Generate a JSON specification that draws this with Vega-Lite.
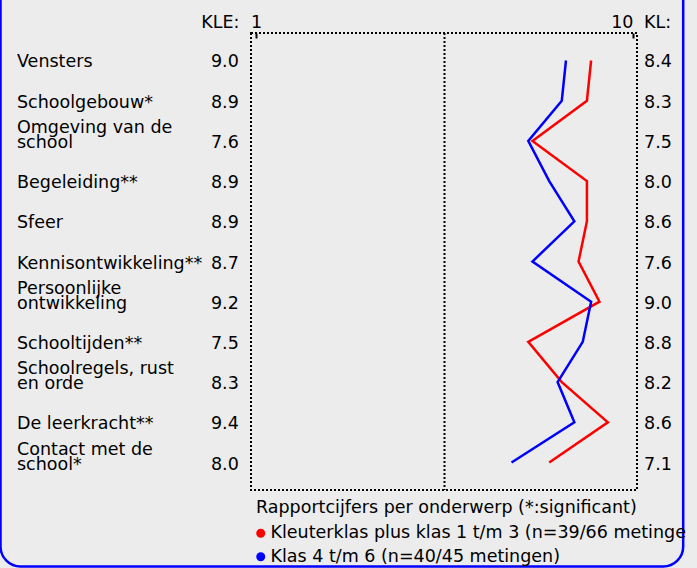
{
  "$schema": "https://vega.github.io/schema/vega-lite/v6.json",
  "width": 386,
  "height": 457,
  "autosize": {"type": "none"},
  "padding": {"left": 251, "top": 33, "right": 60, "bottom": 78},
  "background": "#ececec",
  "config": {
    "font": "DejaVu Sans",
    "view": {"stroke": "#000000", "strokeWidth": 2, "strokeDash": [2, 2]},
    "axis": {"grid": false, "labelFont": "DejaVu Sans", "titleFont": "DejaVu Sans", "labelFontSize": 17.5, "titleFontSize": 17.5, "labelColor": "#000000", "titleColor": "#000000", "titleFontWeight": "normal"}
  },
  "data": {"values": [
    {"onderwerp": "Vensters", "kle": 9.0, "kl": 8.4},
    {"onderwerp": "Schoolgebouw*", "kle": 8.9, "kl": 8.3},
    {"onderwerp": "Omgeving van de\nschool", "kle": 7.6, "kl": 7.5},
    {"onderwerp": "Begeleiding**", "kle": 8.9, "kl": 8.0},
    {"onderwerp": "Sfeer", "kle": 8.9, "kl": 8.6},
    {"onderwerp": "Kennisontwikkeling**", "kle": 8.7, "kl": 7.6},
    {"onderwerp": "Persoonlijke\nontwikkeling", "kle": 9.2, "kl": 9.0},
    {"onderwerp": "Schooltijden**", "kle": 7.5, "kl": 8.8},
    {"onderwerp": "Schoolregels, rust\nen orde", "kle": 8.3, "kl": 8.2},
    {"onderwerp": "De leerkracht**", "kle": 9.4, "kl": 8.6},
    {"onderwerp": "Contact met de\nschool*", "kle": 8.0, "kl": 7.1}
  ]},
  "layer": [
    {
      "data": {"values": [{}]},
      "mark": {"type": "rect", "fill": "transparent", "stroke": "#0000ff", "strokeWidth": 2.5, "cornerRadius": 20},
      "encoding": {
        "x": {"datum": -5.0993, "type": "quantitative", "scale": {"domain": [0.8806, 10.0955], "nice": false, "zero": false}},
        "x2": {"datum": 11.1983},
        "y": {"datum": 1.1597, "type": "quantitative", "scale": {"domain": [0, 1], "nice": false, "zero": false}, "axis": null},
        "y2": {"datum": -0.1674}
      }
    },
    {
      "layer": [
        {
          "data": {"values": [{}]},
          "mark": {"type": "rule", "color": "#000000", "strokeWidth": 2, "strokeDash": [2, 2]},
          "encoding": {"x": {"datum": 5.5, "type": "quantitative"}}
        },
        {
          "transform": [{"fold": ["kle", "kl"], "as": ["groep", "cijfer"]}],
          "mark": {"type": "line", "strokeWidth": 2.5},
          "encoding": {
            "x": {
              "field": "cijfer", "type": "quantitative",
              "scale": {"domain": [0.8806, 10.0955], "nice": false, "zero": false},
              "axis": {
                "orient": "top", "values": [1, 10], "domain": false, "ticks": true, "tickSize": -5, "tickWidth": 2, "tickColor": "#000000",
                "labelPadding": 10.5, "labelBaseline": "alphabetic", "labelFlush": false, "labelOverlap": false, "labelBound": false,
                "labelAlign": {"condition": {"test": "datum.value == 10", "value": "right"}, "value": "center"},
                "title": "KL:", "titleX": 392.5, "titleY": -5.5, "titleAlign": "left", "titleBaseline": "alphabetic", "titleAngle": 0
              }
            },
            "y": {
              "field": "onderwerp", "type": "nominal", "sort": null,
              "scale": {"type": "point", "padding": 0.684},
              "axis": {"orient": "left", "labels": false, "ticks": false, "domain": false, "title": "KLE:", "titleAngle": 0, "titleAlign": "right", "titleBaseline": "alphabetic", "titleX": -12, "titleY": -5.5}
            },
            "color": {
              "field": "groep", "type": "nominal",
              "scale": {"domain": ["kle", "kl"], "range": ["#ff0000", "#0000ff"]},
              "legend": {
                "orient": "none", "legendX": 5, "legendY": 466, "direction": "vertical", "padding": 0,
                "title": "Rapportcijfers per onderwerp (*:significant)",
                "titleFont": "DejaVu Sans", "titleFontSize": 17.5, "titleFontWeight": "normal", "titleColor": "#000000", "titlePadding": 8, "titleLimit": 1000,
                "labelFont": "DejaVu Sans", "labelFontSize": 17.5, "labelColor": "#000000", "labelOffset": 1, "labelLimit": 419,
                "labelExpr": "datum.value === 'kle' ? 'Kleuterklas plus klas 1 t/m 3 (n=39/66 metingen)' : 'Klas 4 t/m 6 (n=40/45 metingen)'",
                "symbolType": "circle", "symbolSize": 81, "symbolStrokeWidth": 0, "symbolOffset": -4, "rowPadding": 4.5,
                "encode": {
                  "symbols": {"update": {"fill": {"scale": "color", "field": "value"}, "opacity": {"value": 1}}},
                  "labels": {"update": {"ellipsis": {"value": "\u200b"}}}
                }
              }
            },
            "order": {"value": null}
          }
        },
        {
          "mark": {"type": "text", "align": "left", "baseline": "bottom", "dy": {"expr": "indexof(datum.onderwerp, '\\n') >= 0 ? -4 : 11"}, "lineBreak": "\n", "lineHeight": 15, "fontSize": 17.5, "font": "DejaVu Sans", "color": "#000000"},
          "encoding": {
            "x": {"datum": -4.7056, "type": "quantitative"},
            "y": {"field": "onderwerp", "type": "nominal", "sort": null},
            "text": {"field": "onderwerp"}
          }
        },
        {
          "mark": {"type": "text", "align": "right", "baseline": "bottom", "dy": 11, "fontSize": 17.5, "font": "DejaVu Sans", "color": "#000000"},
          "encoding": {
            "x": {"datum": 0.5894, "type": "quantitative"},
            "y": {"field": "onderwerp", "type": "nominal", "sort": null},
            "text": {"field": "kle", "format": ".1f"}
          }
        },
        {
          "mark": {"type": "text", "align": "left", "baseline": "bottom", "dy": 11, "fontSize": 17.5, "font": "DejaVu Sans", "color": "#000000"},
          "encoding": {
            "x": {"datum": 10.2626, "type": "quantitative"},
            "y": {"field": "onderwerp", "type": "nominal", "sort": null},
            "text": {"field": "kl", "format": ".1f"}
          }
        }
      ]
    }
  ],
  "resolve": {"scale": {"y": "independent"}}
}
